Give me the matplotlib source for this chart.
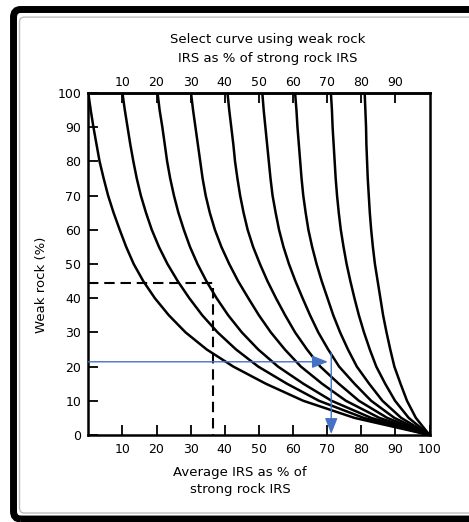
import numpy as np
import matplotlib
matplotlib.use("Agg")
import matplotlib.pyplot as plt
from matplotlib.patches import FancyBboxPatch

# -----------------------------
# Data
# -----------------------------
weak_pct = [100, 95, 90, 85, 80, 75, 70, 65, 60, 55, 50,
            45, 40, 35, 30, 25, 20, 15, 10, 5, 0]

# average IRS (% of strong) for each curve, at the weak_pct values above
avg_00 = [0.0, 0.7, 1.5, 2.4, 3.3, 4.5, 5.8, 7.4, 9.2, 11.1, 13.3,
          16.1, 19.5, 23.6, 28.5, 34.7, 42.5, 52.0, 63.0, 78.0, 100]
avg_10 = [10.0, 10.7, 11.5, 12.3, 13.2, 14.2, 15.4, 16.9, 18.6, 20.7, 23.2,
          26.2, 29.6, 33.4, 37.9, 43.3, 49.8, 58.2, 67.6, 80.7, 100]
avg_20 = [20.3, 20.9, 21.7, 22.4, 23.1, 24.0, 25.1, 26.4, 28.0, 29.8, 32.0,
          34.6, 37.6, 41.0, 45.0, 49.8, 55.6, 63.0, 71.3, 82.9, 100]
avg_30 = [30.1, 30.7, 31.4, 32.1, 32.8, 33.5, 34.4, 35.6, 37.1, 39.0, 41.3,
          43.9, 46.9, 50.0, 53.5, 57.6, 62.3, 68.5, 75.5, 85.3, 100]
avg_40 = [40.8, 41.3, 41.9, 42.5, 43.0, 43.7, 44.5, 45.5, 46.7, 48.3, 50.3,
          52.5, 55.0, 57.7, 60.6, 64.1, 68.0, 73.4, 79.3, 87.6, 100]
avg_50 = [51.0, 51.4, 51.9, 52.4, 52.9, 53.4, 54.0, 54.9, 55.9, 57.2, 58.8,
          60.7, 62.8, 65.0, 67.4, 70.3, 73.5, 78.0, 82.9, 89.7, 100]
avg_60 = [60.6, 61.0, 61.3, 61.7, 62.1, 62.5, 63.0, 63.7, 64.5, 65.6, 66.9,
          68.4, 70.1, 71.8, 73.8, 76.1, 78.7, 82.3, 86.2, 91.7, 100]
avg_70 = [71.1, 71.4, 71.6, 71.9, 72.2, 72.5, 72.9, 73.4, 74.0, 74.8, 75.7,
          76.8, 78.0, 79.3, 80.8, 82.5, 84.4, 87.0, 89.9, 93.9, 100]
avg_80 = [81.0, 81.2, 81.4, 81.5, 81.7, 81.9, 82.2, 82.5, 82.9, 83.4, 84.0,
          84.8, 85.6, 86.4, 87.4, 88.5, 89.7, 91.5, 93.4, 96.0, 100]
curves = [avg_00, avg_10, avg_20, avg_30, avg_40, avg_50, avg_60, avg_70, avg_80]

top_ticks = [10, 20, 30, 40, 50, 60, 70, 80, 90]
bottom_ticks = [10, 20, 30, 40, 50, 60, 70, 80, 90, 100]
left_ticks = [0, 10, 20, 30, 40, 50, 60, 70, 80, 90, 100]

# worked example (dashed) and blue arrows
ex_weak, ex_avg = 44.5, 36.5
blue_weak, blue_avg = 21.4, 71.2

# -----------------------------
# Figure
# -----------------------------
fig = plt.figure(figsize=(4.69, 5.22), dpi=100)
ax = fig.add_axes([0.1883, 0.1667, 0.7275, 0.6552])

for c in curves:
    ax.plot(c, weak_pct, color="black", lw=1.8, solid_joinstyle="round")

# dashed example
ax.plot([0, ex_avg, ex_avg], [ex_weak, ex_weak, 0], color="black", lw=1.5,
        linestyle=(0, (5, 2.8)))

# blue arrows
blue = "#4472C4"
ax.annotate("", xy=(blue_avg - 1.0, blue_weak), xytext=(0, blue_weak),
            arrowprops=dict(arrowstyle="-|>,head_length=0.8,head_width=0.32",
                            color=blue, lw=1.0, shrinkA=0, shrinkB=0, mutation_scale=12))
ax.annotate("", xy=(blue_avg, 0.3), xytext=(blue_avg, blue_weak + 2.7),
            arrowprops=dict(arrowstyle="-|>,head_length=0.8,head_width=0.32",
                            color=blue, lw=1.0, shrinkA=0, shrinkB=0, mutation_scale=12))

ax.set_xlim(0, 100)
ax.set_ylim(0, 100)
for s in ax.spines.values():
    s.set_linewidth(1.8)

ax.set_xticks(bottom_ticks)
ax.set_yticks(left_ticks)
ax.tick_params(direction="in", length=7, width=1.3, labelsize=9, color="black")
ax.tick_params(axis="x", pad=6)
ax.tick_params(axis="y", pad=5)

sec = ax.secondary_xaxis("top")
sec.set_xticks(top_ticks)
sec.tick_params(direction="in", length=7, width=1.3, labelsize=9, pad=3)
sec.spines["top"].set_linewidth(1.8)

ax.set_ylabel("Weak rock (%)", fontsize=9.5, va="center")
ax.yaxis.set_label_coords(-0.136, 0.44)
ax.set_xlabel("Average IRS as % of\nstrong rock IRS", fontsize=9.5, va="center",
              linespacing=1.4)
ax.xaxis.set_label_coords(0.445, -0.135)
ax.text(0.525, 1.13, "Select curve using weak rock\nIRS as % of strong rock IRS",
        transform=ax.transAxes, ha="center", va="center", fontsize=9.5, linespacing=1.6)

# outer frame
fig.add_artist(FancyBboxPatch((0.0288, 0.0057), 1.0, 0.9761,
                              boxstyle="round,pad=0,rounding_size=0.015",
                              transform=fig.transFigure, fill=False,
                              ec="black", lw=5))
fig.add_artist(FancyBboxPatch((0.0416, 0.0172), 1.0, 0.95,
                              boxstyle="round,pad=0,rounding_size=0.01",
                              transform=fig.transFigure, fill=False,
                              ec="#bdbdbd", lw=1))

fig.savefig("out.png", dpi=100)
